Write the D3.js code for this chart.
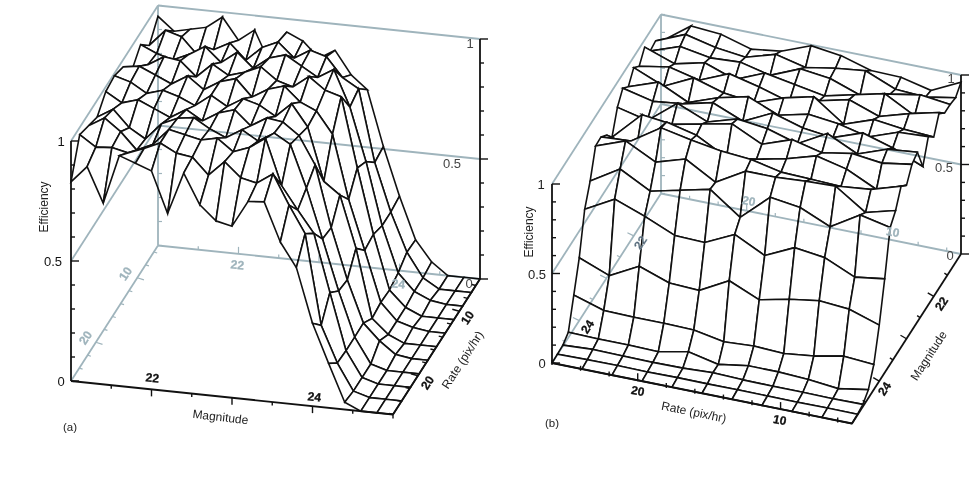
<!DOCTYPE html>
<html><head><meta charset="utf-8">
<script src="https://cdnjs.cloudflare.com/ajax/libs/d3/7.8.5/d3.min.js"></script>
<style>html,body{margin:0;padding:0;background:#fff}svg{display:block}text{font-family:"Liberation Sans",Arial,sans-serif}</style>
</head><body><svg id="c" width="969" height="502"></svg>
<script>
const magnitudes=[21,21.2,21.4,21.6,21.8,22,22.2,22.4,22.6,22.8,23,23.2,23.4,23.6,23.8,24,24.2,24.4,24.6,24.8,25];
const rates=[26,23.9,21.8,19.7,17.6,15.5,13.4,11.3,9.2,7.1,5];
// Panel (a): one row per rate (front to back), one value per magnitude
const effA0=[.83,.90,.755,.96,.935,.91,.74,.915,.79,.73,.715,.825,.83,.67,.57,.345,.185,.03,0,0,0];
const effA1=[.97,.925,.93,.915,.94,.97,.935,.925,.857,.92,.86,.845,.89,.767,.655,.28,.13,.02,0,0,0];
const effA2=[.95,.99,.94,.87,.90,.97,.955,.94,.955,.905,.93,.975,.785,.69,.60,.36,.125,.02,0,0,0];
const effA3=[.93,.97,.90,.86,.93,.96,.97,.93,.90,.94,.90,.94,.90,.725,.52,.31,.125,.02,0,0,0];
const effA4=[.98,.94,.96,.93,.90,.94,.90,.94,.96,.90,.94,.93,.88,.765,.51,.30,.127,.06,.01,0,0];
const effA5=[.99,.97,.93,.95,.93,.90,.95,.91,.95,.93,.89,.95,.86,.64,.59,.375,.09,.03,0,0,0];
const effA6=[.97,.98,.95,.92,.96,.91,.95,.97,.90,.94,.96,.90,.87,.78,.515,.31,.10,.03,.01,0,0];
const effA7=[.90,.93,.97,.96,.90,.96,.92,.94,.97,.92,.90,.95,.90,.88,.59,.32,.095,.03,0,0,0];
const effA8=[.95,.92,.90,.93,.97,.91,.96,.90,.95,.97,.93,.89,.93,.78,.56,.30,.11,.04,.01,0,0];
const effA9=[.89,.96,.94,.87,.90,.935,.87,.93,.96,.90,.94,.92,.84,.80,.50,.30,.14,.04,0,0,0];
const effA10=[.955,.90,.915,.93,.98,.89,.94,.80,.945,.915,.85,.89,.795,.74,.51,.31,.135,.05,0,0,0];
const surfaceA=[effA0,effA1,effA2,effA3,effA4,effA5,effA6,effA7,effA8,effA9,effA10];
// Panel (b): one row per magnitude (25 at the front to 21 at the back), one value per rate
const effB0=[0,0,0,0,0,0,0,0,0,0,0];
const effB1=[.002,.005,.006,.004,.006,.005,.006,.005,.004,.005,.004];
const effB2=[.005,.015,.012,.01,.012,.02,.014,.012,.012,.01,.012];
const effB3=[.03,.026,.026,.022,.056,.019,.045,.045,.036,.019,.047];
const effB4=[.19,.138,.134,.134,.13,.098,.108,.10,.12,.153,.14];
const effB5=[.351,.285,.371,.312,.304,.392,.319,.356,.381,.368,.313];
const effB6=[.575,.665,.603,.53,.524,.603,.519,.597,.575,.50,.524];
const effB7=[.685,.786,.696,.735,.774,.651,.797,.774,.70,.80,.763];
const effB8=[.834,.896,.811,.862,.766,.862,.862,.873,.879,.766,.811];
const effB9=[.837,.848,.955,.921,.893,.88,.843,.837,.83,.848,.899];
const effB10=[.80,.76,.94,.90,.81,.834,.87,.92,.88,.80,.857];
const effB11=[.74,.90,.88,.916,.95,.87,.93,.89,.92,.90,.927];
const effB12=[.86,.82,.95,.88,.93,.91,.86,.95,.87,.93,.947];
const effB13=[.92,.88,.90,.94,.87,.95,.90,.88,.94,.89,.82];
const effB14=[.88,.94,.86,.92,.96,.89,.93,.91,.87,.93,.94];
const effB15=[.94,.87,.95,.90,.88,.94,.98,.86,.92,.90,.89];
const effB16=[.90,.93,.89,.96,.92,.87,.91,.95,.89,.94,.98];
const effB17=[.96,.90,.94,.88,.95,.92,.89,.93,.97,.88,.93];
const effB18=[.89,.95,.92,.93,.89,.96,.94,.88,.92,.95,.93];
const effB19=[.90,.97,.93,.91,.96,.92,.95,.97,.90,.89,.92];
const effB20=[.85,.97,.957,.908,.93,.995,.973,.924,.92,.88,.96];
const surfaceB=[effB0,effB1,effB2,effB3,effB4,effB5,effB6,effB7,effB8,effB9,effB10,effB11,effB12,effB13,effB14,effB15,effB16,effB17,effB18,effB19,effB20];
const magTicks=[21.5,22,22.5,23,23.5,24,24.5];
const rateTicks=[6,8,10,12,14,16,18,20,22,24,26];
const effTicks=[0,.1,.2,.3,.4,.5,.6,.7,.8,.9,1];

const BLACK="#111",GREY="#9fb4bc";
const svg=d3.select("#c");

function panel(o){
  const g=svg.append("g");
  const xM=d3.scaleLinear().domain(o.magD).range(o.magX), yM=d3.scaleLinear().domain(o.magD).range(o.magY);
  const xR=d3.scaleLinear().domain(o.rateD).range(o.rateX), yR=d3.scaleLinear().domain(o.rateD).range(o.rateY);
  const yZ=d3.scaleLinear().domain([0,1]).range([0,-o.h]);
  const P=(m,r,z=0)=>[o.x0+xM(m)+xR(r), o.y0+yM(m)+yR(r)+yZ(z)];
  const path=d3.line();
  const seg=(sel,a,b,c,w)=>sel.append("path").attr("d",path([a,b])).attr("fill","none").attr("stroke",c).attr("stroke-width",w);
  const txt=(sel,t,p,rot,fs,col,anchor="middle",extra={})=>{
    const e=sel.append("text").text(t).attr("transform",`translate(${p[0]},${p[1]}) rotate(${rot})`).attr("text-anchor",anchor).attr("font-size",fs).attr("fill",col);
    Object.entries(extra).forEach(([k,v])=>e.attr(k,v));return e;};

  // surface, painted back to front
  const surf=g.append("g");
  const outer=o.rowsAreRate?rates:magnitudes.slice().reverse(), inner=o.rowsAreRate?magnitudes:rates;
  const pt=(i,j)=>{const z=o.data[i][j];return o.rowsAreRate?P(inner[j],outer[i],z):P(outer[i],inner[j],z);};
  for(let i=outer.length-2;i>=0;i--){
    for(let j=0;j<inner.length-1;j++){
      const q=[pt(i,j),pt(i,j+1),pt(i+1,j+1),pt(i+1,j)];
      surf.append("path").attr("d",path(q)+"Z").attr("fill","#fff").attr("stroke",BLACK).attr("stroke-width",1.6).attr("stroke-linejoin","miter");
    }
  }
  // grey frame and back axes blended over the surface
  const grey=g.append("g").style("mix-blend-mode","multiply");
  const [bm,br]=o.backCorner, [rm,rr]=o.rightCorner, [lm,lr]=o.leftCorner;
  [0,.5,1].forEach(z=>{
    seg(grey,P(bm,br,z),P(rm,rr,z),GREY,1.8);
    seg(grey,P(bm,br,z),P(lm,lr,z),GREY,1.8);
  });
  seg(grey,P(bm,br,0),P(bm,br,1),GREY,1.8);
  effTicks.forEach(z=>{const p=P(bm,br,z);seg(grey,p,[p[0]+4,p[1]],GREY,1.2);});
  magTicks.forEach(m=>{
    const mj=Number.isInteger(m);
    if(o.rowsAreRate){const p=P(m,br,0);seg(grey,p,[p[0],p[1]-(mj?7:3.5)],GREY,1.2);}
    else{const p=P(m,26,0),d=o.magTickDir;seg(grey,p,[p[0]+d[0]*(mj?7:3.5),p[1]+d[1]*(mj?7:3.5)],GREY,1.2);}
  });
  rateTicks.forEach(r=>{
    const mj=r%10===0;
    const p=P(21,r,0);
    const d=o.rateTickDir;seg(grey,p,[p[0]+d[0]*(mj?7:3.5),p[1]+d[1]*(mj?7:3.5)],GREY,1.2);
  });

  // black axes
  const blk=g.append("g");
  const zAxis=(corner,len)=>{
    seg(blk,P(corner[0],corner[1],0),P(corner[0],corner[1],1),BLACK,1.8);
    effTicks.forEach(z=>{const p=P(corner[0],corner[1],z),mj=(Math.round(z*10)%5===0);seg(blk,p,[p[0]+(mj?len:4),p[1]],BLACK,1.4);});
  };
  zAxis(o.leftCorner,8); zAxis(o.rightCorner,8);
  const fm=o.frontMag, fr=o.frontRate;
  seg(blk,P(lm,lr,0),P(fm,fr,0),BLACK,1.8);
  seg(blk,P(rm,rr,0),P(fm,fr,0),BLACK,1.8);
  o.drawTicks(blk,P,seg);
  o.labels.forEach(l=>txt(g,l.t,l.p,l.r||0,l.fs||12,l.c||"#222",l.a||"middle",l.x||{}));
}

const lab=(t,p,r,fs,c,x)=>({t,p,r,fs,c,x});
const bold={stroke:"#111","stroke-width":.3,"font-weight":"bold"};
const gb={stroke:GREY,"stroke-width":.3,"font-weight":"bold"};

panel({
  rowsAreRate:true,data:surfaceA,h:240,x0:71,y0:381,
  magD:[21,25],magX:[0,322],magY:[0,33.5],
  rateD:[26,5],rateX:[0,87],rateY:[0,-135.5],
  backCorner:[21,5],rightCorner:[25,5],leftCorner:[21,26],frontMag:25,frontRate:26,
  rateTickDir:[.95,.3],
  drawTicks(b,P,seg){
    magTicks.forEach(m=>{const p=P(m,26,0),mj=Number.isInteger(m);seg(b,p,[p[0],p[1]+(mj?7:3.5)],BLACK,1.4);});
    rateTicks.forEach(r=>{const p=P(25,r,0),mj=r%10===0;seg(b,p,[p[0]-(mj?7:4),p[1]-(mj?2:1)],BLACK,1.4);});
    const c=P(25,26,0);seg(b,c,[c[0],c[1]+4],BLACK,1.4);
  },
  labels:[
    lab("Efficiency",[48,207],-90,12,"#222"),
    lab("1",[61,146],0,13,"#111"),lab("0.5",[53,266],0,13,"#111"),lab("0",[61,386],0,13,"#111"),
    lab("22",[152,382],6,12,"#111",bold),lab("24",[314,401],6,12,"#111",bold),
    lab("Magnitude",[220,421],6.5,12,"#222"),lab("(a)",[70,431],0,11.5,"#222"),
    lab("10",[129,276],-57,12,GREY,gb),lab("20",[89,340],-57,12,GREY,gb),
    lab("22",[237,269],6,12,GREY,gb),lab("24",[398,288],6,12,GREY,gb),
    lab("10",[471,320],-57,12,"#111",bold),lab("20",[431,385],-57,12,"#111",bold),
    lab("Rate (pix/hr)",[466,362],-57,12,"#222"),
    lab("1",[470,48],0,13,"#444"),lab("0.5",[452,168],0,13,"#444"),lab("0",[469,288],0,13,"#444")
  ]
});

panel({
  rowsAreRate:false,data:surfaceB,h:179,x0:552,y0:363,
  magD:[25,21],magX:[0,109],magY:[0,-169.5],
  rateD:[26,5],rateX:[0,300],rateY:[0,60.5],
  backCorner:[21,26],rightCorner:[21,5],leftCorner:[25,26],frontMag:25,frontRate:5,
  rateTickDir:[0,-1],magTickDir:[-.9,-.45],
  drawTicks(b,P,seg){
    rateTicks.forEach(r=>{const p=P(25,r,0),mj=r%10===0;seg(b,[p[0],p[1]+(mj?1:2)],[p[0],p[1]-(mj?7:3)],BLACK,1.4);});
    magTicks.forEach(m=>{const p=P(m,5,0),mj=Number.isInteger(m);seg(b,p,[p[0]-(mj?6:3),p[1]-(mj?3.5:2)],BLACK,1.4);});
  },
  labels:[
    lab("Efficiency",[533,232],-90,12,"#222"),
    lab("1",[541,189],0,13,"#222"),lab("0.5",[537,279],0,13,"#222"),lab("0",[542,368],0,13,"#222"),
    lab("20",[637,395],11,12,"#111",bold),lab("10",[779,424],11,12,"#111",bold),
    lab("Rate (pix/hr)",[693,416],11.5,12,"#222"),lab("(b)",[552,427],0,11.5,"#222"),
    lab("20",[748,205],11,12,GREY,gb),lab("10",[892,236],11,12,GREY,gb),
    lab("24",[591,329],-57,12,"#111",bold),lab("22",[644,245],-57,12,"#567",gb),
    lab("22",[945,306],-57,12,"#111",bold),lab("24",[888,391],-57,12,"#111",bold),
    lab("Magnitude",[932,358],-57,12,"#222"),
    lab("1",[951,83],0,13,"#444"),lab("0.5",[944,172],0,13,"#444"),lab("0",[950,260],0,13,"#444")
  ]
});
</script></body></html>
